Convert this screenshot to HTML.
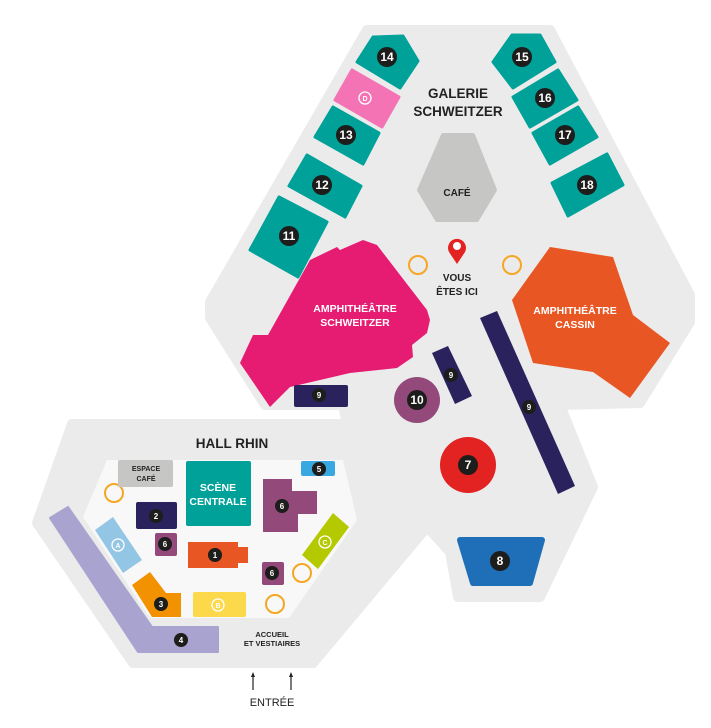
<!DOCTYPE html>
<html><head><meta charset="utf-8"><style>
html,body{margin:0;padding:0;background:#fff;width:711px;height:728px;overflow:hidden}
svg{display:block}
text{font-family:"Liberation Sans",sans-serif;font-weight:bold;text-anchor:middle}
.n{fill:#fff;font-size:10px}
.nb{fill:#fff;font-size:12px}
.w{fill:#fff;font-size:10.5px}
.d{fill:#222;font-size:7.5px}
</style></head><body>
<svg width="711" height="728" viewBox="0 0 711 728">
<path d="M367,30 L550,30 L690,295 L690,322 L640,403 L560,405 L593,487 L540,597 L458,597 L450,552 L427,527 L313,663 L133,663 L37,523 L72,424 L347,424 L343,405 L265,405 L210,318 L210,302 Z" fill="#ebebeb" stroke="#ebebeb" stroke-width="10" stroke-linejoin="round"/>
<polygon points="107,460 343,460 357,520 289,618 150,618 83,517" fill="#f8f8f8"/>

<!-- teal galerie -->
<g fill="#00a199" stroke="#00a199" stroke-width="3" stroke-linejoin="round">
<polygon points="357,62 373,37 403,36 418,61 400,88"/>
<polygon points="493,62 512,35 540,35 555,62 513,88"/>
<polygon points="315,137 333,107 379,133 363,164"/>
<polygon points="289,186 307,155 361,186 345,217"/>
<polygon points="250,250 279,197 327,222 298,277"/>
<polygon points="513,97 558,70 577,100 530,127"/>
<polygon points="533,133 578,107 597,137 550,164"/>
<polygon points="552,183 607,154 623,185 568,216"/>
</g>
<polygon points="335,100 352,70 399,97 382,127" fill="#f373b5" stroke="#f373b5" stroke-width="3" stroke-linejoin="round"/>
<circle cx="365" cy="98" r="6" fill="none" stroke="#fff" stroke-width="1.3"/>
<text x="365" y="101" style="font-size:7px;fill:#fff">D</text>

<polygon points="443,135 473,135 495,190 477,220 437,220 419,190" fill="#c6c6c5" stroke="#c6c6c5" stroke-width="4" stroke-linejoin="round"/>
<text x="457" y="196" class="d" style="font-size:10px">CAFÉ</text>
<text x="458" y="98" style="font-size:13.5px;fill:#222">GALERIE</text>
<text x="458" y="116" style="font-size:13.5px;fill:#222">SCHWEITZER</text>

<!-- amphi -->
<polygon points="240,363 253,335 268,335 310,260 337,247 340,250 363,240 377,245 427,310 430,320 427,333 412,345 413,357 397,368 350,373 290,387 270,407" fill="#e61b72"/>
<polygon points="550,247 613,257 633,315 670,343 630,398 593,372 533,363 512,300" fill="#e85723"/>
<text x="355" y="312" class="w">AMPHITHÉÂTRE</text>
<text x="355" y="326" class="w">SCHWEITZER</text>
<text x="575" y="314" class="w">AMPHITHÉÂTRE</text>
<text x="575" y="328" class="w">CASSIN</text>

<!-- pin -->
<path d="M457,264 L449,252 A9,9 0 1 1 465,252 Z" fill="#e32222"/>
<circle cx="457" cy="246" r="4" fill="#fff"/>
<text x="457" y="281" class="d" style="font-size:10px">VOUS</text>
<text x="457" y="295" class="d" style="font-size:10px">ÊTES ICI</text>
<g fill="none" stroke="#f5a623" stroke-width="2">
<circle cx="418" cy="265" r="9"/><circle cx="512" cy="265" r="9"/>
<circle cx="114" cy="493" r="9"/><circle cx="302" cy="573" r="9"/><circle cx="275" cy="604" r="9"/>
</g>

<!-- 9 bars -->
<g fill="#29225c">
<rect x="294" y="385" width="54" height="22" rx="2"/>
<polygon points="432,353 448,346 472,396 455,404"/>
<polygon points="480,318 497,311 575,486 558,494"/>
</g>
<circle cx="417" cy="400" r="23" fill="#934a7b"/>
<circle cx="468" cy="465" r="28" fill="#e32222"/>
<polygon points="460,540 542,540 530,583 473,583" fill="#1f6fb8" stroke="#1f6fb8" stroke-width="6" stroke-linejoin="round"/>

<!-- hall rhin -->
<text x="232" y="448" style="font-size:13.5px;fill:#222">HALL RHIN</text>
<rect x="118" y="460" width="55" height="27" rx="2" fill="#c6c6c5"/>
<text x="146" y="471" class="d" style="font-size:7px">ESPACE</text>
<text x="146" y="481" class="d" style="font-size:7px">CAFÉ</text>
<rect x="186" y="461" width="65" height="65" rx="2" fill="#00a199"/>
<text x="218" y="491" class="w" style="font-size:10.5px">SCÈNE</text>
<text x="218" y="505" class="w" style="font-size:10.5px">CENTRALE</text>
<rect x="301" y="461" width="34" height="15" rx="2" fill="#3aa8e0"/>
<polygon points="263,479 292,479 292,491 317,491 317,514 298,514 298,532 263,532" fill="#934a7b"/>
<rect x="136" y="502" width="41" height="27" rx="2" fill="#29225c"/>
<polygon points="95,530 113,517 142,560 123,573" fill="#93c6e4"/>
<circle cx="118" cy="545" r="6" fill="none" stroke="#fff" stroke-width="1.3"/>
<text x="118" y="548" style="font-size:7px;fill:#fff">A</text>
<rect x="155" y="533" width="22" height="23" rx="2" fill="#934a7b"/>
<path d="M188,542 H238 V547 H248 V563 H238 V568 H188 Z" fill="#e85723"/>
<polygon points="302,555 333,513 349,527 318,569" fill="#b5c900"/>
<circle cx="325" cy="542" r="6" fill="none" stroke="#fff" stroke-width="1.3"/>
<text x="325" y="545" style="font-size:7px;fill:#fff">C</text>
<rect x="262" y="562" width="22" height="23" rx="2" fill="#934a7b"/>
<polygon points="132,585 150,572 166,593 181,593 181,617 152,617" fill="#f39200"/>
<rect x="193" y="592" width="53" height="25" rx="2" fill="#fcd94b"/>
<circle cx="218" cy="605" r="6" fill="none" stroke="#fff" stroke-width="1.3"/>
<text x="218" y="608" style="font-size:7px;fill:#fff">B</text>
<polygon points="50,518 68,507 152,627 218,627 218,652 138,652" fill="#a9a3cf" stroke="#a9a3cf" stroke-width="2" stroke-linejoin="round"/>
<text x="272" y="637" class="d">ACCUEIL</text>
<text x="272" y="646" class="d">ET VESTIAIRES</text>
<g stroke="#222" stroke-width="1.2" fill="#222">
<line x1="253" y1="690" x2="253" y2="675"/><line x1="291" y1="690" x2="291" y2="675"/>
</g>
<polygon points="251,677 253,672 255,677" fill="#222"/><polygon points="289,677 291,672 293,677" fill="#222"/>
<text x="272" y="706" style="font-size:11px;fill:#222;font-weight:normal">ENTRÉE</text>

<!-- labels -->
<g fill="#1d1d1b">
<circle cx="387" cy="57" r="10"/><circle cx="522" cy="57" r="10"/>
<circle cx="346" cy="135" r="10"/><circle cx="322" cy="185" r="10"/><circle cx="289" cy="236" r="10"/>
<circle cx="545" cy="98" r="10"/><circle cx="565" cy="135" r="10"/><circle cx="587" cy="185" r="10"/>
<circle cx="319" cy="395" r="7"/><circle cx="451" cy="375" r="7"/><circle cx="529" cy="407" r="7"/>
<circle cx="417" cy="400" r="10"/><circle cx="468" cy="465" r="10"/><circle cx="500" cy="561" r="10"/>
<circle cx="319" cy="469" r="7"/><circle cx="282" cy="506" r="7"/><circle cx="156" cy="516" r="7"/>
<circle cx="165" cy="544" r="7"/><circle cx="215" cy="555" r="7"/><circle cx="272" cy="573" r="7"/>
<circle cx="161" cy="604" r="7"/><circle cx="181" cy="640" r="7"/>
</g>
<text x="387" y="61" class="nb">14</text><text x="522" y="61" class="nb">15</text>
<text x="346" y="139" class="nb">13</text><text x="322" y="189" class="nb">12</text><text x="289" y="240" class="nb">11</text>
<text x="545" y="102" class="nb">16</text><text x="565" y="139" class="nb">17</text><text x="587" y="189" class="nb">18</text>
<text x="319" y="398" class="n" style="font-size:8px">9</text><text x="451" y="378" class="n" style="font-size:8px">9</text><text x="529" y="410" class="n" style="font-size:8px">9</text>
<text x="417" y="404" class="nb">10</text><text x="468" y="469" class="nb">7</text><text x="500" y="565" class="nb">8</text>
<text x="319" y="472" class="n" style="font-size:8px">5</text><text x="282" y="509" class="n" style="font-size:8px">6</text><text x="156" y="519" class="n" style="font-size:8px">2</text>
<text x="165" y="547" class="n" style="font-size:8px">6</text><text x="215" y="558" class="n" style="font-size:8px">1</text><text x="272" y="576" class="n" style="font-size:8px">6</text>
<text x="161" y="607" class="n" style="font-size:8px">3</text><text x="181" y="643" class="n" style="font-size:8px">4</text>
</svg>
</body></html>
